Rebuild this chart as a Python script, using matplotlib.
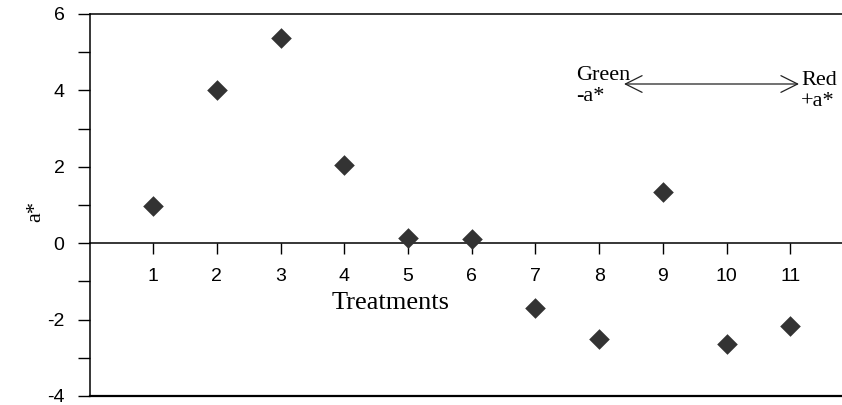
import matplotlib
matplotlib.use("Agg")
import matplotlib.pyplot as plt
from matplotlib.ticker import MultipleLocator

treatments = [1, 2, 3, 4, 5, 6, 7, 8, 9, 10, 11]
a_star = [0.97, 4.00, 5.38, 2.05, 0.13, 0.12, -1.69, -2.52, 1.33, -2.65, -2.17]
y_ticks = [-4, -2, 0, 2, 4, 6]

W, H = 842, 405
fig = plt.figure(figsize=(W / 100, H / 100), dpi=100)
left, top, bottom = 89.5, 14, 396
unit = 63.7
ax = fig.add_axes([left / W, (H - bottom) / H, 12 * unit / W, (bottom - top) / H])

ax.scatter(treatments, a_star, marker='D', s=10.5 ** 2, color='#333333', zorder=3,
           clip_on=False, linewidths=0)

ax.set_xlim(0, 12)
ax.set_ylim(-4, 6)

ax.spines['right'].set_visible(False)
ax.spines['bottom'].set_position(('data', 0))
for s in ('left', 'top', 'bottom'):
    ax.spines[s].set_linewidth(1.1)
ax.axhline(-4, color='black', lw=1.6, clip_on=False, zorder=2)

ax.set_xticks(treatments)
ax.set_xticklabels([str(t) for t in treatments], fontsize=14, family='Liberation Sans')
ax.tick_params(axis='x', direction='out', length=8, width=1.0, pad=10)

ax.set_yticks(y_ticks)
ax.set_yticklabels([str(v) for v in y_ticks], fontsize=14, family='Liberation Sans')
ax.yaxis.set_minor_locator(MultipleLocator(1))
ax.tick_params(axis='y', which='both', direction='out', length=9, width=1.0, pad=9)

fig.text(391 / W, 1 - 292 / H, 'Treatments', ha='center', va='top',
         fontsize=19, family='Liberation Serif')
fig.text(36 / W, 1 - 212 / H, 'a*', ha='center', va='center', rotation=90,
         fontsize=16, family='Liberation Serif')

serif = dict(fontsize=16, family='Liberation Serif', ha='left', va='baseline')
fig.text(576 / W, 1 - 80 / H, 'Green', **serif)
fig.text(576 / W, 1 - 101 / H, '-a*', **serif)
fig.text(801 / W, 1 - 85 / H, 'Red', **serif)
fig.text(801 / W, 1 - 106 / H, '+a*', **serif)

fig.add_artist(matplotlib.patches.FancyArrowPatch(
    (624 / W, 1 - 84 / H), (799 / W, 1 - 84 / H), transform=fig.transFigure,
    arrowstyle='<->,head_length=0.6,head_width=0.3', mutation_scale=20,
    lw=0.9, color='#222222', shrinkA=0, shrinkB=0))

fig.savefig('out.png', dpi=100)
